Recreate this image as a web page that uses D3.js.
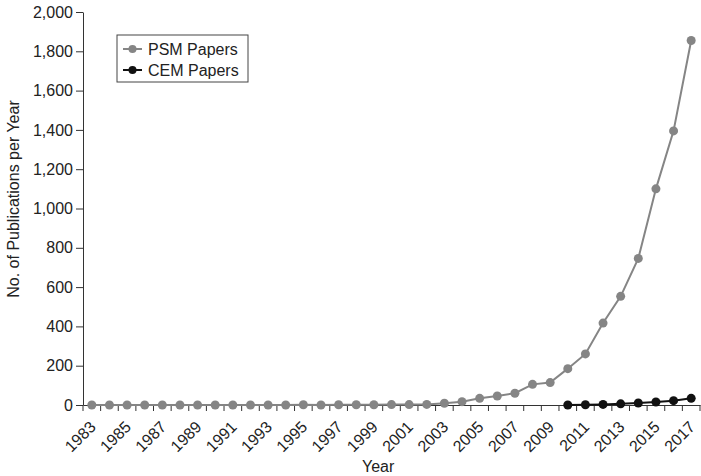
<!DOCTYPE html>
<html><head><meta charset="utf-8">
<script src="https://cdn.jsdelivr.net/npm/d3@7"></script>
<style>body{margin:0;background:#fff}svg{display:block;font-family:"Liberation Sans",Arial,sans-serif}</style>
</head><body><svg id="c" width="701" height="476"></svg>
<script>
const years = d3.range(1983, 2018).map(String);
const psm = [0,0,0,0,0,0,0,0,0,0,0,0,1,0,1,1,1,2,2,3,9,17,34,46,60,105,114,185,260,417,553,746,1100,1395,1855];
const cemYears = ["2010","2011","2012","2013","2014","2015","2016","2017"];
const cem = [0,1,3,6,10,15,22,34];
const yTicks = [0,200,400,600,800,1000,1200,1400,1600,1800,2000];

const svg = d3.select("#c");
const m = {l:83, r:700, t:12, b:405};
const x = d3.scaleBand().domain(years).range([m.l, m.r]);
const y = d3.scaleLinear().domain([0,2000]).range([m.b, m.t]);
const cx = d => x(d) + x.bandwidth()/2;

const ya = svg.append("g").attr("transform",`translate(${m.l},0)`)
  .call(d3.axisLeft(y).tickValues(yTicks).tickSize(7).tickSizeOuter(0).tickFormat(d3.format(",")));
ya.selectAll("text").attr("font-size",16).attr("fill","#222").attr("x",-10);
ya.selectAll("line,path").attr("stroke","#333");

const xa = svg.append("g").attr("transform",`translate(0,${m.b})`)
  .call(d3.axisBottom(x).tickSize(0).tickFormat(""));
xa.select("path").attr("stroke","#333");
const bounds = years.map(d => x(d)).concat([m.r]);
svg.append("g").selectAll("line").data(bounds).join("line")
  .attr("x1",d=>d).attr("x2",d=>d).attr("y1",m.b).attr("y2",m.b+6).attr("stroke","#333");
svg.append("g").selectAll("text").data(years.filter((d,i)=>i%2===0)).join("text")
  .attr("transform",d=>`translate(${cx(d)-3},${m.b+15}) rotate(-45)`)
  .attr("text-anchor","end").attr("dy","0.7em").attr("font-size",16).attr("fill","#222").text(d=>d);

svg.append("text").attr("x",362).attr("y",472).attr("font-size",16).attr("fill","#222").text("Year");
svg.append("text").attr("transform","translate(19,199) rotate(-90)").attr("text-anchor","middle")
  .attr("font-size",16).attr("fill","#222").text("No. of Publications per Year");

const line = d3.line().x(d=>cx(d[0])).y(d=>y(d[1]));
const psmData = years.map((d,i)=>[d,psm[i]]);
const cemData = cemYears.map((d,i)=>[d,cem[i]]);
function series(data,col){
  svg.append("path").datum(data).attr("d",line).attr("fill","none").attr("stroke",col).attr("stroke-width",2);
  svg.append("g").selectAll("circle").data(data).join("circle")
    .attr("cx",d=>cx(d[0])).attr("cy",d=>y(d[1])).attr("r",4.5).attr("fill",col);
}
series(psmData,"#858585");
series(cemData,"#111");

const lg = svg.append("g");
lg.append("rect").attr("x",117).attr("y",35).attr("width",131).attr("height",47).attr("fill","#fff").attr("stroke","#444").attr("stroke-width",1);
[["PSM Papers","#858585",49],["CEM Papers","#111",70]].forEach(([t,c,yy])=>{
  lg.append("line").attr("x1",123).attr("x2",142).attr("y1",yy).attr("y2",yy).attr("stroke",c).attr("stroke-width",2);
  lg.append("circle").attr("cx",132.5).attr("cy",yy).attr("r",4).attr("fill",c);
  lg.append("text").attr("x",148).attr("y",yy).attr("dy","0.35em").attr("font-size",16).attr("fill","#222").text(t);
});
</script></body></html>
